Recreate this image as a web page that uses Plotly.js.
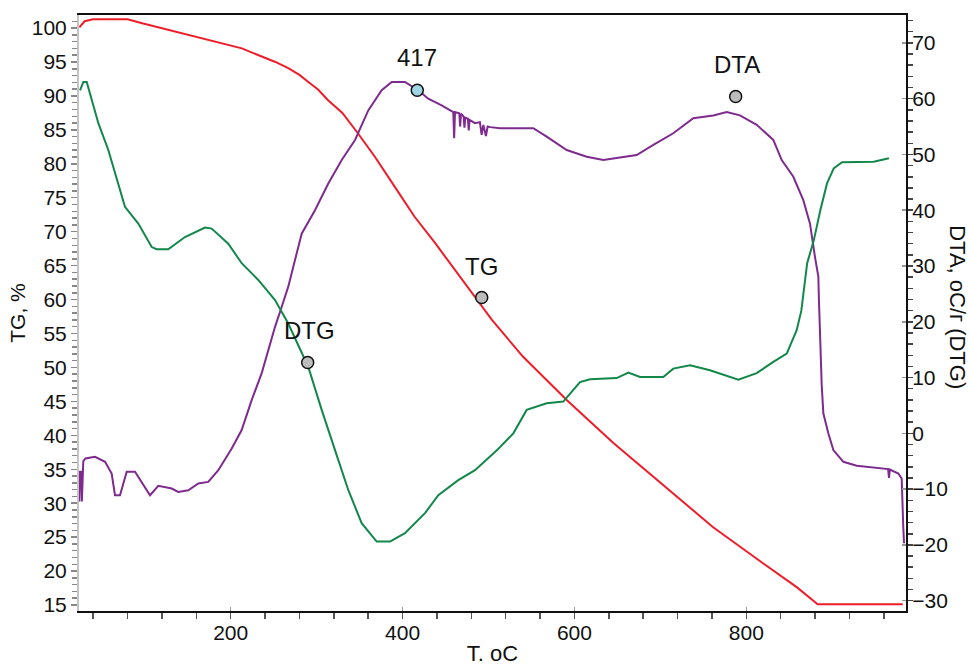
<!DOCTYPE html>
<html>
<head>
<meta charset="utf-8">
<script src="https://cdn.plot.ly/plotly-3.0.1.min.js"></script>
<style>html,body{margin:0;padding:0;background:#fff;}#chart{width:969px;height:666px;}</style>
</head>
<body>
<div id="chart"></div>
<script>
// TG (left axis, %)
const tgX = [24, 30, 40, 80, 97, 135, 174, 213, 236, 252, 267, 280, 290, 302, 313, 330, 348, 368, 391, 414, 438, 461, 484, 504, 540, 591, 645, 700, 761, 819, 859, 883, 982];
const tgY = [100.1, 101.0, 101.3, 101.3, 100.7, 99.5, 98.2, 97.0, 95.8, 95.0, 94.1, 93.1, 92.1, 90.9, 89.4, 87.5, 84.5, 81.0, 76.6, 72.2, 68.3, 64.4, 60.4, 57.0, 51.6, 45.2, 38.9, 33.0, 26.5, 21.2, 17.6, 15.1, 15.1];

// DTG (right axis)
const dtgX = [24.7, 28.5, 32.5, 36.3, 46.0, 57.6, 69.2, 77.0, 92.5, 108.1, 113.9, 127.4, 146.8, 170.1, 177.9, 197.2, 212.8, 232.1, 251.6, 267.0, 290.3, 305.9, 321.4, 336.9, 352.4, 369.9, 385.4, 402.8, 426.1, 441.6, 464.8, 484.3, 510, 528.9, 544.4, 567.7, 587.0, 606.5, 618.1, 649.2, 662.7, 676.3, 703.4, 715.0, 734.5, 757.7, 790.7, 812.1, 831.4, 847.0, 858.6, 864, 870.8, 878.5, 886.1, 893.9, 901.7, 911.4, 948.2, 965.9];
const dtgY = [61.5, 63.0, 63.0, 60.9, 55.6, 50.8, 44.8, 40.6, 37.6, 33.4, 33.0, 33.0, 35.2, 36.9, 36.7, 34.0, 30.5, 27.5, 23.9, 19.7, 11.9, 4.2, -3.0, -10.2, -16.1, -19.4, -19.4, -17.9, -14.3, -11.1, -8.4, -6.6, -3.0, 0.0, 4.2, 5.4, 5.7, 9.2, 9.7, 9.9, 10.9, 10.1, 10.1, 11.6, 12.2, 11.3, 9.6, 10.8, 12.8, 14.3, 18.5, 22.0, 30.5, 34.6, 40.0, 44.8, 47.5, 48.6, 48.7, 49.3];

// DTA (right axis)
const dtaX = [23.8, 24.5, 26.0, 26.8, 28.5, 31, 42.1, 53.8, 61.5, 65.4, 71.2, 79.0, 88.7, 100.3, 106.1, 115.8, 131.4, 139.0, 150.7, 162.3, 173.9, 185.6, 201.2, 212.8, 224.5, 236.1, 243.8, 251.6, 259.4, 267.0, 282.6, 298.1, 313.6, 329.2, 344.7, 360.1, 375.7, 387.4, 402.8, 418.3, 429.9, 445.5, 459.0, 460.0, 461.0, 466, 467, 468, 471, 472, 473, 476, 477, 478, 484.3, 490, 492, 494, 497, 499, 502, 513.4, 552.1, 567.7, 591.0, 614.3, 633.6, 672.4, 691.8, 715.0, 738.3, 761.6, 777.2, 792.6, 812.1, 831.4, 841.2, 854.7, 866.3, 874.1, 879.9, 883.8, 884.5, 885.8, 887.7, 889.6, 895.4, 901.3, 912.9, 928.5, 959.4, 965, 966, 967, 976.9, 980.8, 982.6, 983.5];
const dtaY = [-12.2, -6.9, -6.9, -12.2, -5.0, -4.5, -4.2, -5.1, -7.2, -11.1, -11.1, -6.9, -6.9, -9.6, -11.1, -9.4, -9.9, -10.5, -10.2, -9.0, -8.7, -6.6, -2.7, 0.6, 6.0, 10.8, 14.9, 19.1, 22.7, 26.3, 35.8, 40.0, 44.8, 49.0, 52.6, 57.9, 61.5, 63.0, 63.0, 61.5, 60.0, 58.8, 57.6, 52.9, 57.6, 57.4, 55.0, 57.3, 56.8, 54.8, 56.6, 56.4, 54.3, 56.2, 55.6, 55.8, 53.5, 55.3, 53.3, 55.0, 54.9, 54.7, 54.7, 53.2, 50.8, 49.6, 49.0, 49.9, 51.7, 53.8, 56.5, 57.0, 57.6, 57.0, 55.3, 52.6, 49.0, 46.0, 41.8, 37.6, 31.6, 28.1, 23.9, 16.1, 8.7, 3.6, 0.0, -3.0, -5.1, -5.8, -6.3, -6.4, -8.0, -6.5, -7.2, -8.1, -16.7, -19.7];

// Point labels
const tgMarkX = [492.1], tgMarkY = [60.3], tgMarkText = ['TG'];
const rMarkX = [289.6, 787.6], rMarkY = [12.7, 60.4], rMarkText = ['DTG', 'DTA'];
const peakX = [417.1], peakY = [61.5], peakText = ['417'];

// Tick values
const xTicks = [200, 400, 600, 800];
const yTicks = [15, 20, 25, 30, 35, 40, 45, 50, 55, 60, 65, 70, 75, 80, 85, 90, 95, 100];
const y2Ticks = [-30, -20, -10, 0, 10, 20, 30, 40, 50, 60, 70];

const FONT = 'Liberation Sans, Arial, sans-serif';
const RED = '#ee1d2a', GREEN = '#12874a', PURPLE = '#7e2a8e';
const LBL = 24;

const traces = [
  {x: dtaX, y: dtaY, yaxis: 'y2', mode: 'lines', line: {color: PURPLE, width: 2}, name: 'DTA'},
  {x: dtgX, y: dtgY, yaxis: 'y2', mode: 'lines', line: {color: GREEN, width: 2}, name: 'DTG'},
  {x: tgX, y: tgY, yaxis: 'y', mode: 'lines', line: {color: RED, width: 2}, name: 'TG'},
  {x: tgMarkX, y: tgMarkY, yaxis: 'y', mode: 'markers', marker: {size: 12, color: '#bdbdbd', line: {color: '#111', width: 1.5}}},
  {x: rMarkX, y: rMarkY, yaxis: 'y2', mode: 'markers', marker: {size: 12, color: '#bdbdbd', line: {color: '#111', width: 1.5}}},
  {x: peakX, y: peakY, yaxis: 'y2', mode: 'markers', marker: {size: 12, color: '#9fd6e6', line: {color: '#111', width: 1.5}}}
];

const annotations = [];
tgMarkX.forEach((v, i) => annotations.push({x: v, y: tgMarkY[i], xref: 'x', yref: 'y', text: tgMarkText[i], showarrow: false, yshift: 31, font: {size: LBL, color: '#111', family: FONT}}));
rMarkX.forEach((v, i) => annotations.push({x: v + (i === 0 ? 2 : 1), y: rMarkY[i], xref: 'x', yref: 'y2', text: rMarkText[i], showarrow: false, yshift: 32, font: {size: LBL, color: '#111', family: FONT}}));
peakX.forEach((v, i) => annotations.push({x: v, y: peakY[i], xref: 'x', yref: 'y2', text: peakText[i], showarrow: false, yshift: 33, font: {size: LBL, color: '#111', family: FONT}}));
annotations.push({x: 1.0627, y: 0.51, xref: 'paper', yref: 'paper', xanchor: 'center', yanchor: 'middle', text: 'DTA, oC/г (DTG)', textangle: 90, showarrow: false, font: {size: 22, color: '#111', family: FONT}});

const layout = {
  width: 969, height: 666,
  margin: {l: 79, r: 63, t: 15, b: 55},
  paper_bgcolor: '#fff', plot_bgcolor: '#fff',
  showlegend: false,
  font: {family: FONT, size: 21, color: '#111'},
  xaxis: {
    range: [23.5, 985.8], showgrid: false, zeroline: false,
    showline: true, linecolor: '#111', linewidth: 2, mirror: true,
    tickmode: 'array', tickvals: xTicks, ticks: 'inside', ticklen: 4, tickcolor: '#999', tickwidth: 1.5,
    ticklabelstandoff: 2,
    minor: {dtick: 40, tick0: 0, ticks: 'outside', ticklen: 6, tickcolor: '#555', tickwidth: 1.5},
    tickfont: {size: 21, color: '#111', family: FONT},
    title: {text: 'T. oC', standoff: 2, font: {size: 22, color: '#111', family: FONT}}
  },
  yaxis: {
    range: [14.12, 101.92], showgrid: false, zeroline: false,
    showline: true, linecolor: '#c4c4c4', linewidth: 2,
    tickmode: 'array', tickvals: yTicks, ticks: 'outside', ticklen: 6, tickcolor: '#888', tickwidth: 1.5,
    minor: {dtick: 1, tick0: 0, ticks: 'outside', ticklen: 5, tickcolor: '#888', tickwidth: 1.5},
    tickfont: {size: 21, color: '#111', family: FONT},
    title: {text: 'TG, %', standoff: 0, font: {size: 21, color: '#111', family: FONT}}
  },
  yaxis2: {
    range: [-31.85, 75], overlaying: 'y', side: 'right', showgrid: false, zeroline: false,
    showline: true, linecolor: '#111', linewidth: 2,
    tickmode: 'array', tickvals: y2Ticks, ticks: 'inside', ticklen: 4, tickcolor: '#999', tickwidth: 1.5,
    ticklabelstandoff: 0,
    minor: {dtick: 2, tick0: 0, ticks: 'outside', ticklen: 5, tickcolor: '#444', tickwidth: 1.5},
    tickfont: {size: 21, color: '#111', family: FONT}
  },
  annotations: annotations
};

Plotly.newPlot('chart', traces, layout, {displayModeBar: false, staticPlot: true});
</script>
</body>
</html>
